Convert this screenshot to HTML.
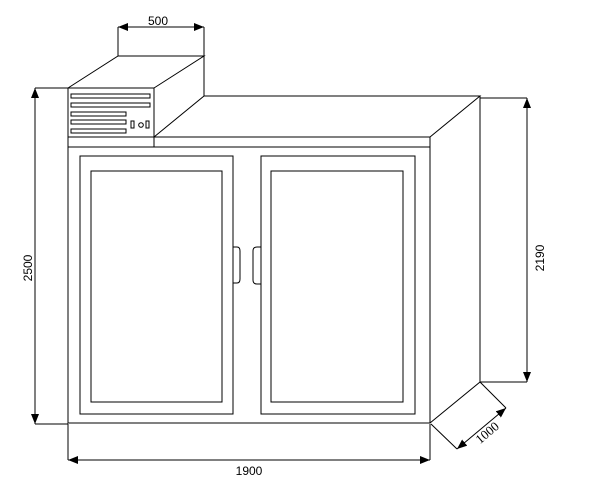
<!DOCTYPE html>
<html><head><style>body{margin:0;background:#fff}</style></head><body>
<svg width="605" height="492" xmlns="http://www.w3.org/2000/svg" font-family="Liberation Sans, sans-serif">
<defs><marker id="a" markerWidth="10" markerHeight="8" refX="10" refY="4" orient="auto-start-reverse" markerUnits="userSpaceOnUse"><path d="M0,0L10,4L0,8z" fill="#000"/></marker></defs>
<g fill="none" stroke="#000" stroke-width="1">
<path d="M68,88L118,56H204L154,88M204,56V96L154,137"/>
<rect x="68" y="88" width="86" height="49"/>
<rect x="71" y="94" width="79" height="4"/><rect x="71" y="103" width="79" height="4"/>
<rect x="71" y="112" width="55" height="4"/><rect x="71" y="120" width="55" height="4"/><rect x="71" y="129" width="55" height="4"/>
<rect x="131" y="121" width="3" height="7"/><circle cx="141" cy="125" r="2.3"/><rect x="146" y="121" width="3" height="7"/>
<path d="M204,96H480L430,137M480,96V382L430,423"/>
<rect x="68" y="137" width="362" height="286"/>
<path d="M68,147H430M154,137V147"/>
<rect x="80" y="156" width="153" height="258"/><rect x="91" y="171" width="131" height="231"/>
<rect x="261" y="156" width="154" height="258"/><rect x="271" y="171" width="132" height="231"/>
<path d="M233,247H237Q240,247 240,251V279Q240,283 237,283H233"/>
<path d="M261,247H257Q253,247 253,251V280Q253,284 257,284H261"/>
<path d="M118,56V27M204,56V27"/>
<path d="M118,27H204" marker-end="url(#a)" marker-start="url(#a)"/>
<path d="M68,88H35M68,424H35"/>
<path d="M35,88V424" marker-end="url(#a)" marker-start="url(#a)"/>
<path d="M480,98H527M480,382H527"/>
<path d="M527,98V382" marker-end="url(#a)" marker-start="url(#a)"/>
<path d="M68,424V460M430,424V460"/>
<path d="M68,460H430" marker-end="url(#a)" marker-start="url(#a)"/>
<path d="M431,424L457,449M480,382L506,408"/>
<path d="M457,449L506,408" marker-end="url(#a)" marker-start="url(#a)"/>
</g>
<g font-size="12" fill="#000" text-anchor="middle">
<text x="158" y="25">500</text>
<text x="249" y="475">1900</text>
<text transform="translate(32,268) rotate(-90)">2500</text>
<text transform="translate(544,258) rotate(-90)">2190</text>
<text transform="translate(490,436) rotate(-40)" font-family="Liberation Serif, serif" font-size="13">1000</text>
</g>
</svg>
</body></html>
